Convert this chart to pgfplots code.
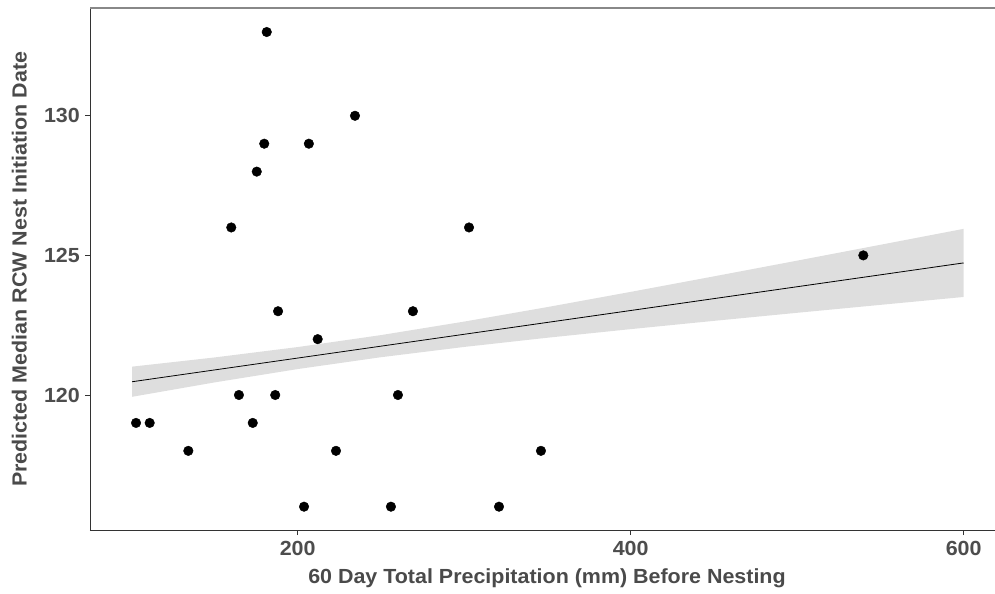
\documentclass[border=0pt]{standalone}
\usepackage{fontspec}
\setmainfont{Liberation Sans}[FakeStretch=1.05]
\usepackage{pgfplots}
\pgfplotsset{compat=1.18}
\definecolor{band}{HTML}{DEDEDE}
\definecolor{tickgray}{HTML}{4D4D4D}
\definecolor{labgray}{HTML}{4A4A4A}
\definecolor{axgray}{HTML}{333333}
\definecolor{topgray}{HTML}{888888}

\begin{document}
\begin{tikzpicture}
\begin{axis}[name=ax, scale only axis, width=914bp, height=522.7bp,
 xmin=75.25, xmax=624.2, ymin=115.14, ymax=133.86,
 axis x line*=bottom, axis y line*=left,
 axis line style={-, axgray, line width=0.9bp},
 xtick={200,400,600}, ytick={120,125,130},
 minor tick num=0,
 tick style={axgray, line width=0.9bp}, tick align=outside, major tick length=4.5bp,
 /pgf/number format/assume math mode=true,
 ticklabel style={font=\fontsize{20.5}{24}\selectfont\bfseries, text=tickgray, inner sep=0pt},
 xticklabel style={anchor=north, yshift=-6bp},
 yticklabel style={anchor=east, xshift=-5.5bp},
 xlabel={60 Day Total Precipitation (mm) Before Nesting},
 ylabel={Predicted Median RCW Nest Initiation Date},
 every axis x label/.style={at={([yshift=-52.6bp]axis description cs:0.5,0)}, anchor=base, inner sep=0pt, font=\fontsize{20.5}{24}\selectfont\bfseries, text=labgray},
 every axis y label/.style={at={([xshift=-63.3bp]axis description cs:0,0.5)}, rotate=90, anchor=base, inner sep=0pt, font=\fontsize{20.5}{24}\selectfont\bfseries, text=labgray},
 clip=false,
]
% confidence band (upper forward, lower backward)
\addplot[fill=band, draw=none] coordinates {
 (100.5,121.015) (150,121.344) (200,121.717) (250,122.145) (300,122.629)
 (350,123.149) (400,123.693) (450,124.249) (500,124.812) (550,125.380) (600,125.951)
 (600,123.511) (550,123.228) (500,122.944) (450,122.655) (400,122.359)
 (350,122.051) (300,121.721) (250,121.353) (200,120.929) (150,120.450) (100.5,119.935)
} -- cycle;
% fitted line
\addplot[black, line width=0.8bp] coordinates {
 (100.5,120.475) (150,120.897) (200,121.323) (250,121.749) (300,122.175)
 (350,122.600) (400,123.026) (450,123.452) (500,123.878) (550,124.304) (600,124.731)
};
% observations
\addplot[only marks, mark=*, mark size=4.8bp, black] coordinates {
 (102.9,119) (111.1,119) (134.3,118) (160.1,126) (164.7,120) (173.0,119)
 (175.4,128) (179.9,129) (181.4,133) (186.5,120) (188.2,123) (203.8,116)
 (206.7,129) (212.0,122) (223.0,118) (234.4,130) (256.0,116) (260.2,120)
 (269.2,123) (302.9,126) (320.9,116) (346.1,118) (539.7,125)
};
\end{axis}
\draw[topgray, line width=1.5bp] (ax.north west) -- (ax.north east);
\pgfresetboundingbox
\path ([xshift=-90bp,yshift=-63.3bp]ax.south west) rectangle ([xshift=-9bp,yshift=8bp]ax.north east);
\end{tikzpicture}
\end{document}
